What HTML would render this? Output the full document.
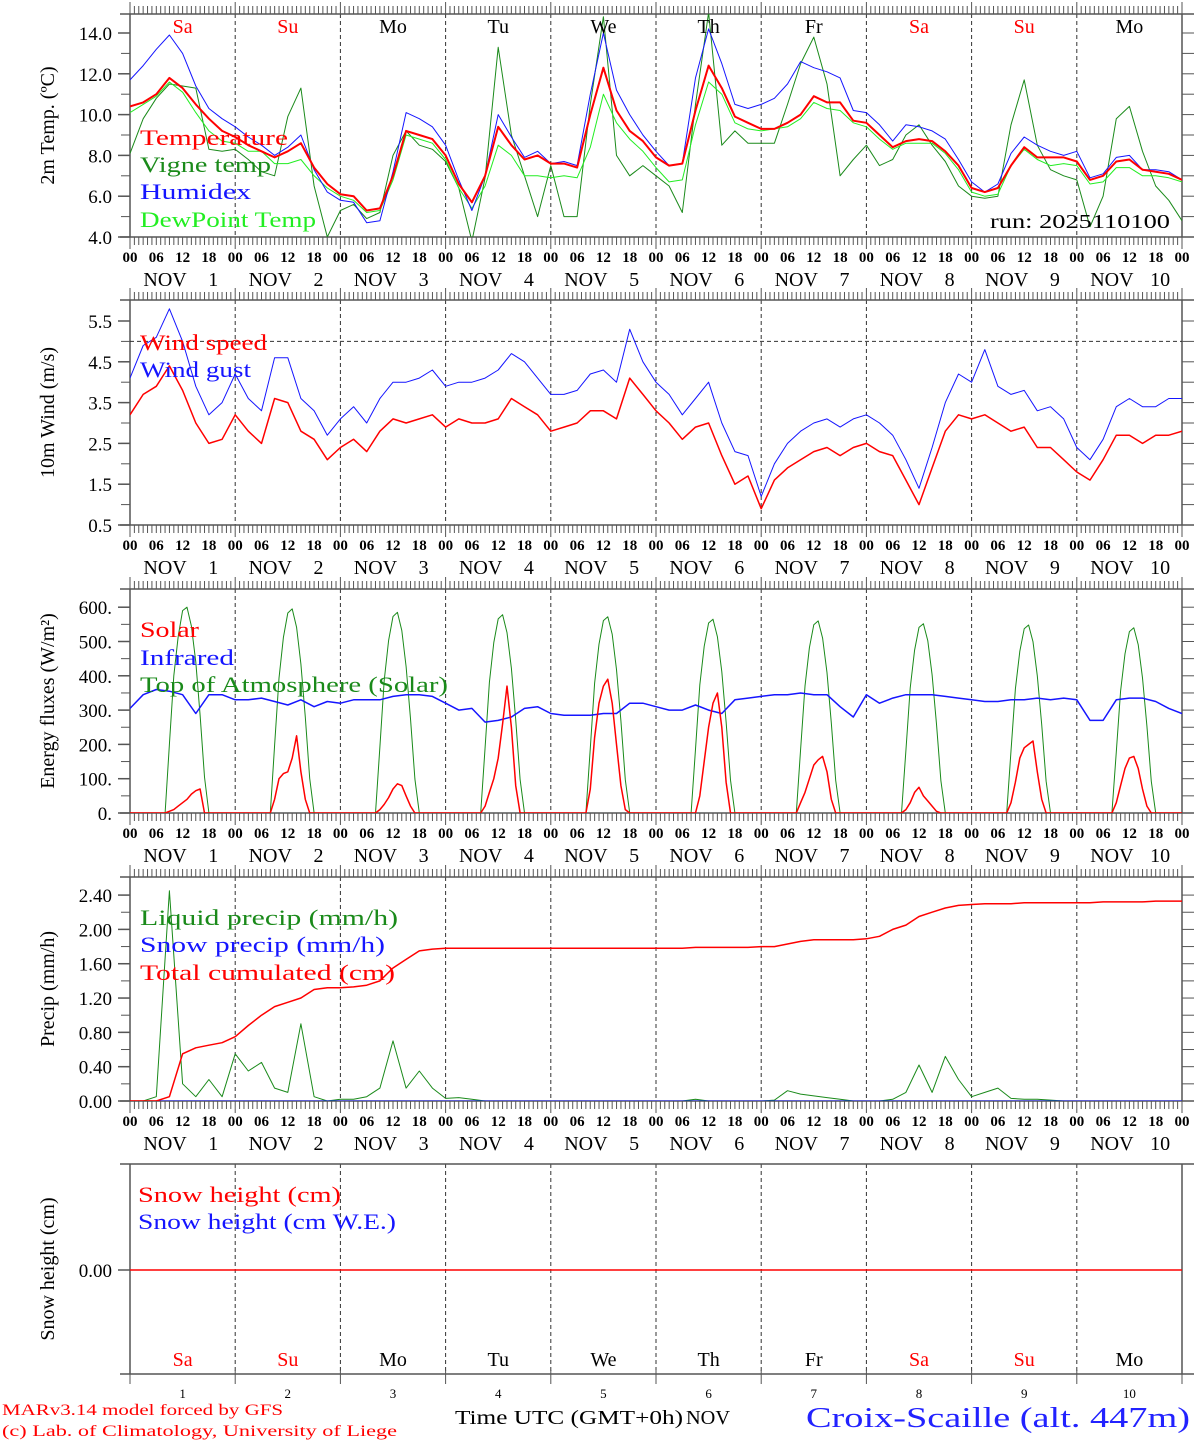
<!DOCTYPE html>
<html><head><meta charset="utf-8"><style>
html,body{margin:0;padding:0;background:#fff;}
svg{display:block;font-family:"Liberation Serif",serif;}
</style></head><body>
<svg id="chart" width="1194" height="1440" viewBox="0 0 1194 1440" xmlns="http://www.w3.org/2000/svg"></svg>
<script>
// ---- data (3-hourly, Nov 1 00UTC .. Nov 11 00UTC, 81 values) ----
const days = ['Sa','Su','Mo','Tu','We','Th','Fr','Sa','Su','Mo'];
const dayNums = ['1','2','3','4','5','6','7','8','9','10'];
const hourLabels = ['00','06','12','18'];
const tempTicks = [4,6,8,10,12,14];
const windTicks = [0.5,1.5,2.5,3.5,4.5,5.5];
const energyTicks = [0,100,200,300,400,500,600];
const precipTicks = [0,0.4,0.8,1.2,1.6,2.0,2.4];

const temperature = [10.4,10.6,11.0,11.8,11.3,10.5,9.8,9.2, 8.9,8.5,8.2,7.9,8.2,8.6,7.4,6.6, 6.1,6.0,5.3,5.4,7.0,9.2,9.0,8.8, 8.0,6.6,5.7,7.0,9.4,8.5,7.8,8.0, 7.6,7.6,7.4,10.0,12.3,10.2,9.2,8.7, 7.9,7.5,7.6,10.2,12.4,11.3,9.9,9.6, 9.3,9.3,9.6,10.0,10.9,10.6,10.6,9.7, 9.6,9.0,8.4,8.7,8.8,8.7,8.2,7.5, 6.4,6.2,6.4,7.5,8.4,7.9,7.9,7.9, 7.7,6.8,7.0,7.7,7.8,7.3,7.2,7.1, 6.8];
const vigne = [8.1,9.8,10.8,11.5,11.4,11.3,8.3,8.2, 8.3,7.8,7.2,7.0,9.9,11.3,6.5,4.0, 5.3,5.6,4.9,5.2,8.0,9.2,8.5,8.3, 7.7,6.4,3.8,6.9,13.3,9.0,7.0,5.0, 7.5,5.0,5.0,10.5,14.8,8.0,7.0,7.5, 7.0,6.5,5.2,10.5,15.0,8.5,9.2,8.6, 8.6,8.6,10.5,12.5,13.8,11.5,7.0,7.8, 8.5,7.5,7.8,9.0,9.5,8.5,7.7,6.5, 6.0,5.9,6.0,9.5,11.7,8.5,7.3,7.0, 6.8,4.5,6.0,9.8,10.4,8.2,6.5,5.8, 4.8];
const humidex = [11.7,12.4,13.2,13.9,13.0,11.4,10.3,9.8, 9.4,8.9,8.5,8.0,8.4,9.0,7.3,6.2, 5.8,5.7,4.7,4.8,7.2,10.1,9.8,9.4, 8.5,6.8,5.3,7.0,10.0,8.9,7.9,8.2, 7.6,7.7,7.5,11.0,14.0,11.2,10.0,9.0, 8.2,7.5,7.6,11.8,14.2,12.5,10.5,10.3, 10.5,10.8,11.5,12.6,12.3,12.1,11.8,10.2, 10.1,9.5,8.7,9.5,9.4,9.2,8.8,7.8, 6.7,6.2,6.6,8.1,8.9,8.5,8.2,8.0, 8.2,6.9,7.1,7.9,8.0,7.3,7.3,7.2, 6.8];
const dewpoint = [10.1,10.5,10.9,11.6,11.1,10.1,9.2,8.7, 8.6,8.2,8.2,7.6,7.6,7.8,7.0,6.4, 6.0,5.8,5.2,5.3,6.8,9.0,8.8,8.6, 7.8,6.4,5.4,6.5,8.5,8.0,7.0,7.0, 6.9,7.0,6.9,8.4,11.0,9.6,8.8,8.2, 7.4,6.7,6.8,9.5,11.6,11.0,9.6,9.3, 9.2,9.3,9.4,9.8,10.6,10.3,10.2,9.6, 9.4,8.8,8.3,8.6,8.6,8.6,8.1,7.3, 6.2,6.0,6.1,7.5,8.3,7.8,7.5,7.6, 7.5,6.6,6.7,7.4,7.4,7.0,7.0,6.9, 6.7];
const windSpeed = [3.2,3.7,3.9,4.4,3.8,3.0,2.5,2.6, 3.2,2.8,2.5,3.6,3.5,2.8,2.6,2.1, 2.4,2.6,2.3,2.8,3.1,3.0,3.1,3.2, 2.9,3.1,3.0,3.0,3.1,3.6,3.4,3.2, 2.8,2.9,3.0,3.3,3.3,3.1,4.1,3.7, 3.3,3.0,2.6,2.9,3.0,2.2,1.5,1.7, 0.9,1.6,1.9,2.1,2.3,2.4,2.2,2.4, 2.5,2.3,2.2,1.6,1.0,1.9,2.8,3.2, 3.1,3.2,3.0,2.8,2.9,2.4,2.4,2.1, 1.8,1.6,2.1,2.7,2.7,2.5,2.7,2.7, 2.8];
const windGust = [4.1,4.9,5.1,5.8,5.0,3.9,3.2,3.5, 4.2,3.6,3.3,4.6,4.6,3.6,3.3,2.7, 3.1,3.4,3.0,3.6,4.0,4.0,4.1,4.3, 3.9,4.0,4.0,4.1,4.3,4.7,4.5,4.1, 3.7,3.7,3.8,4.2,4.3,4.0,5.3,4.5, 4.0,3.7,3.2,3.6,4.0,3.0,2.3,2.2, 1.2,2.0,2.5,2.8,3.0,3.1,2.9,3.1, 3.2,3.0,2.7,2.1,1.4,2.4,3.5,4.2, 4.0,4.8,3.9,3.7,3.8,3.3,3.4,3.1, 2.4,2.1,2.6,3.4,3.6,3.4,3.4,3.6, 3.6];
// energy: daylight hourly values (hours 08..18) per day
const daylightHours = [8,9,10,11,12,13,14,15,16,17,18];
const solarDay1 = [0,5,10,20,30,40,55,65,70,0,0];
const solarDay2 = [0,40,100,115,120,160,225,120,40,0,0];
const solarDay3 = [0,10,25,45,70,85,80,50,20,0,0];
const solarDay4 = [0,20,60,100,160,260,370,250,80,0,0];
const solarDay5 = [0,70,220,320,370,390,320,200,80,10,0];
const solarDay6 = [0,0,50,150,250,320,350,250,90,0,0];
const solarDay7 = [0,30,60,100,140,155,165,120,40,0,0];
const solarDay8 = [0,10,30,60,75,50,35,20,5,0,0];
const solarDay9 = [0,30,90,160,190,200,210,120,40,0,0];
const solarDay10 = [0,30,80,130,160,165,130,70,20,0,0];
const toaDay1 = [0,200,400,515,590,600,545,440,285,105,0];
const toaDay2 = [0,197,393,512,583,595,541,434,280,101,0];
const toaDay3 = [0,193,386,503,573,585,532,427,275,99,0];
const toaDay4 = [0,191,381,497,566,578,526,422,272,98,0];
const toaDay5 = [0,189,378,492,561,572,521,418,269,97,0];
const toaDay6 = [0,186,373,486,554,565,514,412,266,96,0];
const toaDay7 = [0,185,370,482,549,560,510,409,263,95,0];
const toaDay8 = [0,182,364,475,541,552,502,403,259,94,0];
const toaDay9 = [0,181,362,471,537,548,499,400,258,93,0];
const toaDay10 = [0,178,356,464,529,540,491,394,254,92,0];
const solarDays = [solarDay1,solarDay2,solarDay3,solarDay4,solarDay5,solarDay6,solarDay7,solarDay8,solarDay9,solarDay10];
const toaDays = [toaDay1,toaDay2,toaDay3,toaDay4,toaDay5,toaDay6,toaDay7,toaDay8,toaDay9,toaDay10];
const infrared = [305,345,360,355,345,290,345,345, 330,330,335,325,315,330,310,325, 320,330,330,330,340,345,345,340, 320,300,305,265,270,280,305,310, 290,285,285,285,290,290,320,320, 310,300,300,315,300,290,330,335, 340,345,345,350,345,345,310,280, 345,320,335,345,345,345,340,335, 330,325,325,330,330,335,330,335, 330,270,270,330,335,335,325,305, 290];
const liquid = [0,0,0.05,2.45,0.2,0.05,0.25,0.05, 0.55,0.35,0.45,0.15,0.1,0.9,0.05,0, 0.02,0.02,0.05,0.15,0.7,0.15,0.35,0.15, 0.03,0.04,0.02,0,0,0,0,0, 0,0,0,0,0,0,0,0, 0,0,0,0.02,0,0,0,0, 0,0.01,0.12,0.08,0.06,0.04,0.02,0, 0,0,0.02,0.1,0.42,0.1,0.52,0.25, 0.05,0.1,0.15,0.03,0.02,0.02,0.01,0, 0,0,0,0,0,0,0,0, 0];
const snowPrecip = [0,0,0,0,0,0,0,0, 0,0,0,0,0,0,0,0, 0,0,0,0,0,0,0,0, 0,0,0,0,0,0,0,0, 0,0,0,0,0,0,0,0, 0,0,0,0,0,0,0,0, 0,0,0,0,0,0,0,0, 0,0,0,0,0,0,0,0, 0,0,0,0,0,0,0,0, 0,0,0,0,0,0,0,0, 0];
const cumulated = [0,0,0,0.05,0.55,0.62,0.65,0.68, 0.75,0.88,1.0,1.1,1.15,1.2,1.3,1.32, 1.32,1.33,1.35,1.4,1.55,1.65,1.75,1.77, 1.78,1.78,1.78,1.78,1.78,1.78,1.78,1.78, 1.78,1.78,1.78,1.78,1.78,1.78,1.78,1.78, 1.78,1.78,1.78,1.79,1.79,1.79,1.79,1.79, 1.80,1.80,1.83,1.86,1.88,1.88,1.88,1.88, 1.89,1.92,2.0,2.05,2.15,2.2,2.25,2.28, 2.29,2.3,2.3,2.3,2.31,2.31,2.31,2.31, 2.31,2.31,2.32,2.32,2.32,2.32,2.33,2.33, 2.33];
const snowHeight = [0,0];

// ---- drawing ----
const NS='http://www.w3.org/2000/svg';
const svg=document.getElementById('chart');
const X0=130,X1=1182;
function x(t){return X0+t*(X1-X0)/240;}
function mk(tag,attrs,parent){const e=document.createElementNS(NS,tag);for(const k in attrs)e.setAttribute(k,attrs[k]);(parent||svg).appendChild(e);return e;}
function txt(s,ax,ay,size,fill,anchor,parent,extra){const e=mk('text',Object.assign({x:ax,y:ay,'font-size':size,fill:fill,'text-anchor':anchor||'start'},extra||{}),parent);e.textContent=s;return e;}

const panels=[
 {name:'temperature-panel',top:14,bot:237,y:v=>237-(v-4)*20.4,ticks:tempTicks,fmt:v=>v.toFixed(1),minor:1,title:'2m Temp. (ºC)'},
 {name:'wind-panel',top:300,bot:525,y:v=>525-(v-0.5)*40.8,ticks:windTicks,fmt:v=>v.toFixed(1),minor:0.5,title:'10m Wind (m/s)'},
 {name:'energy-panel',top:589,bot:813,y:v=>813-v*0.343,ticks:energyTicks,fmt:v=>v+'.',minor:50,title:'Energy fluxes (W/m²)'},
 {name:'precip-panel',top:877,bot:1101,y:v=>1101-v*85.8,ticks:precipTicks,fmt:v=>v.toFixed(2),minor:0.2,title:'Precip (mm/h)'},
 {name:'snow-panel',top:1164,bot:1374,y:v=>1270-v*100,ticks:[0],fmt:v=>v.toFixed(2),minor:0,title:'Snow height (cm)'}
];

panels.forEach((p,pi)=>{
  const g=mk('g',{});
  
  
  const clipId='clip'+pi;
  const cp=mk('clipPath',{id:clipId},g);mk('rect',{x:X0,y:p.top,width:X1-X0,height:p.bot-p.top},cp);
  for(let d=1;d<10;d++){const l=mk('line',{x1:x(d*24),x2:x(d*24),y1:p.top,y2:p.bot,stroke:'#333','stroke-width':1,'stroke-dasharray':'4,3'},g);}
  mk('line',{x1:X0,x2:X0,y1:p.top,y2:p.bot,stroke:'#555','stroke-width':1.5},g);
  mk('line',{x1:X1,x2:X1,y1:p.top,y2:p.bot,stroke:'#555','stroke-width':1.5},g);
  mk('line',{x1:120,x2:1194,y1:p.top,y2:p.top,stroke:'#555','stroke-width':1.5},g);
  mk('line',{x1:120,x2:1194,y1:p.bot,y2:p.bot,stroke:'#555','stroke-width':1.5},g);
  if(pi<4){
    for(let h=0;h<=240;h++){const big=h%24===0;
      mk('line',{x1:x(h),x2:x(h),y1:p.top,y2:p.top-(big?12:8),stroke:'#555','stroke-width':1},g);
      mk('line',{x1:x(h),x2:x(h),y1:p.bot,y2:p.bot+(big?12:8),stroke:'#555','stroke-width':1},g);}
    for(let d=0;d<=10;d++){for(let k=0;k<4;k++){if(d===10&&k>0)break;
      const t=txt(hourLabels[k],x(d*24+k*6),p.bot+25,15,'#000','middle',g,{'font-weight':'bold'});
      }}
    for(let d=0;d<10;d++){
      const t=txt('NOV',x(d*24+8),p.bot+49,20,'#000','middle',g);
      const t2=txt(dayNums[d],x(d*24+19),p.bot+49,20,'#000','middle',g);}
  } else {
    for(let d=0;d<=10;d++) mk('line',{x1:x(d*24),x2:x(d*24),y1:p.bot-4,y2:p.bot+10,stroke:'#555','stroke-width':1},g);
    for(let d=0;d<10;d++){const t=txt(dayNums[d],x(d*24+12),p.bot+24,13,'#000','middle',g);}
  }
  if(p.minor){const lo=p.ticks[0],hi=p.ticks[p.ticks.length-1];
    for(let v=lo;v<=hi+1e-6;v+=p.minor){mk('line',{x1:121,x2:X0,y1:p.y(v),y2:p.y(v),stroke:'#555','stroke-width':1},g);mk('line',{x1:X1,x2:1194,y1:p.y(v),y2:p.y(v),stroke:'#555','stroke-width':1},g);}}
  p.ticks.forEach(v=>{mk('line',{x1:118,x2:X0,y1:p.y(v),y2:p.y(v),stroke:'#555','stroke-width':1.5},g);
    const t=txt(p.fmt(v),112,p.y(v)+7,19,'#000','end',g);});
  const cy=(p.top+p.bot)/2;
  const tt=txt(p.title,0,0,20,'#000','middle',g,{transform:`translate(54,${cy}) rotate(-90)`});
  
  p.g=mk('g',{'clip-path':`url(#${clipId})`},g);
});

function drawLine(p,ts,vals,color,w,name){
  const pts=vals.map((v,i)=>x(ts[i]).toFixed(1)+','+p.y(v).toFixed(1)).join(' ');
  const l=mk('polyline',{points:pts,fill:'none',stroke:color,'stroke-width':w,'stroke-linejoin':'round'},p.g);
  
}
function series(p,data,color,w,name){drawLine(p,data.map((v,i)=>i*3),data,color,w,name);}
function daySeries(p,dayArrs,color,w,name){
  const ts=[0],vals=[0];
  dayArrs.forEach((arr,d)=>arr.forEach((v,k)=>{ts.push(d*24+daylightHours[k]);vals.push(v);}));
  ts.push(240);vals.push(0);
  drawLine(p,ts,vals,color,w,name);
}
function legend(s,lx,ly,w,color,name){const t=txt(s,lx,ly,22,color,'start',svg,{textLength:w,lengthAdjust:'spacingAndGlyphs'});}

const P=panels;
series(P[0],vigne,'#1a8a1a',1,'vigne-temp-line');
series(P[0],dewpoint,'#22ee22',1,'dewpoint-line');
series(P[0],humidex,'#1515ff',1,'humidex-line');
series(P[0],temperature,'#ff0000',2,'temperature-line');
legend('Temperature',140,145,148,'#ff0000','legend-temperature');
legend('Vigne temp',140,172,131,'#1a8a1a','legend-vigne-temp');
legend('Humidex',140,199,111,'#1515ff','legend-humidex');
legend('DewPoint Temp',140,227,176,'#22ee22','legend-dewpoint');
{const t=txt('run: 2025110100',1170,228,20,'#000','end',svg,{textLength:180,lengthAdjust:'spacingAndGlyphs'});}
days.forEach((d,i)=>{const t=txt(d,x(i*24+12),33,20,(d==='Sa'||d==='Su')?'#ff0000':'#000','middle');});
mk('line',{x1:X0,x2:X1,y1:P[1].y(5),y2:P[1].y(5),stroke:'#333','stroke-dasharray':'4,3'},P[1].g);
series(P[1],windGust,'#1515ff',1,'wind-gust-line');
series(P[1],windSpeed,'#ff0000',1.5,'wind-speed-line');
legend('Wind speed',140,350,127,'#ff0000','legend-wind-speed');
legend('Wind gust',140,377,111,'#1515ff','legend-wind-gust');
daySeries(P[2],toaDays,'#1a8a1a',1,'toa-solar-line');
series(P[2],infrared,'#1515ff',1.5,'infrared-line');
daySeries(P[2],solarDays,'#ff0000',1.5,'solar-line');
legend('Solar',140,637,59,'#ff0000','legend-solar');
legend('Infrared',140,665,94,'#1515ff','legend-infrared');
legend('Top of Atmosphere (Solar)',140,692,308,'#1a8a1a','legend-toa');
series(P[3],liquid,'#1a8a1a',1,'liquid-precip-line');
series(P[3],snowPrecip,'#1515ff',1,'snow-precip-line');
series(P[3],cumulated,'#ff0000',1.5,'cumulated-precip-line');
legend('Liquid precip (mm/h)',140,925,258,'#1a8a1a','legend-liquid-precip');
legend('Snow precip (mm/h)',140,952,245,'#1515ff','legend-snow-precip');
legend('Total cumulated (cm)',140,980,255,'#ff0000','legend-cumulated');
{const l=mk('line',{x1:X0,x2:X1,y1:P[4].y(snowHeight[0]),y2:P[4].y(snowHeight[1]),stroke:'#ff0000','stroke-width':1.5},P[4].g);}
legend('Snow height (cm)',138,1202,203,'#ff0000','legend-snow-height');
legend('Snow height (cm W.E.)',138,1229,258,'#1515ff','legend-snow-we');
days.forEach((d,i)=>{const t=txt(d,x(i*24+12),1366,20,(d==='Sa'||d==='Su')?'#ff0000':'#000','middle');});
{let t=txt('MARv3.14 model forced by GFS',2,1415,16,'#ff0000','start',svg,{textLength:281,lengthAdjust:'spacingAndGlyphs'});
t=txt('(c) Lab. of Climatology, University of Liege',2,1436,16,'#ff0000','start',svg,{textLength:395,lengthAdjust:'spacingAndGlyphs'});
t=txt('Time UTC (GMT+0h)',455,1424,20,'#000','start',svg,{textLength:228,lengthAdjust:'spacingAndGlyphs'});
t=txt('NOV',686,1424,20,'#000','start',svg,{textLength:44,lengthAdjust:'spacingAndGlyphs'});
t=txt('Croix-Scaille (alt. 447m)',806,1427,28,'#2222ff','start',svg,{textLength:384,lengthAdjust:'spacingAndGlyphs'});}
</script>
</body></html>
